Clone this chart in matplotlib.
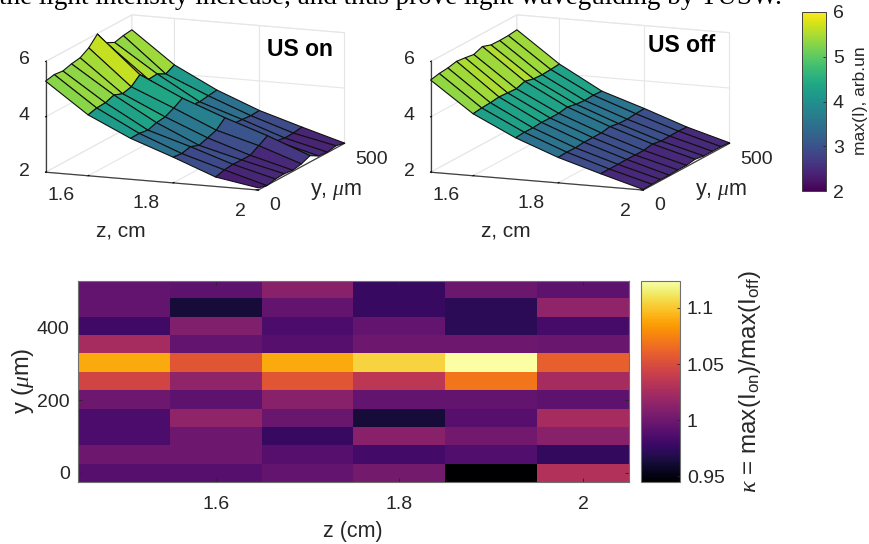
import numpy as np
import matplotlib
matplotlib.use('Agg')
import matplotlib.pyplot as plt

plt.rcParams['font.family'] = ['Liberation Sans', 'DejaVu Sans']
plt.rcParams['mathtext.fontset'] = 'custom'
plt.rcParams['mathtext.rm'] = 'Liberation Sans'
plt.rcParams['mathtext.it'] = 'Liberation Serif:italic'

z_cm = [1.5, 1.6, 1.7, 1.8, 1.9, 2.0]
y_um = [0, 50, 100, 150, 200, 250, 300, 350, 400, 450, 500]

# max(I) with ultrasound on, one row per z
I_on = [[5.29, 5.36, 5.32, 5.41, 5.46, 5.65, 5.98, 5.50, 5.34, 5.42, 5.46],
        [4.20, 4.28, 4.30, 4.41, 4.29, 4.37, 4.64, 4.30, 4.33, 4.16, 4.32],
        [3.48, 3.49, 3.44, 3.54, 3.58, 3.73, 3.92, 3.49, 3.45, 3.50, 3.54],
        [2.93, 2.89, 2.97, 2.85, 2.95, 3.06, 3.34, 2.96, 2.94, 2.91, 2.93],
        [2.34, 2.43, 2.46, 2.45, 2.45, 2.63, 2.82, 2.46, 2.40, 2.41, 2.46],
        [2.08, 1.99, 2.06, 2.08, 2.04, 2.10, 2.23, 2.05, 2.02, 2.08, 2.01]]
# max(I) with ultrasound off
I_off = [[5.33, 5.40, 5.43, 5.50, 5.46, 5.41, 5.53, 5.42, 5.41, 5.42, 5.46],
         [4.24, 4.28, 4.30, 4.34, 4.32, 4.30, 4.40, 4.32, 4.30, 4.32, 4.35],
         [3.50, 3.53, 3.52, 3.55, 3.54, 3.54, 3.60, 3.53, 3.50, 3.52, 3.50],
         [2.92, 2.94, 2.93, 2.96, 2.96, 2.96, 3.02, 2.96, 2.95, 2.98, 3.00],
         [2.46, 2.46, 2.46, 2.47, 2.46, 2.46, 2.52, 2.46, 2.47, 2.48, 2.46],
         [2.02, 2.04, 2.04, 2.03, 2.05, 2.05, 2.10, 2.05, 2.05, 2.05, 2.02]]
# kappa, one row per y (y = 0 first), one column per z
kappa = [[0.990, 0.990, 0.995, 1.003, 0.945, 1.030],
         [1.000, 1.000, 0.990, 0.982, 0.988, 0.975],
         [0.985, 1.000, 0.977, 1.012, 1.002, 1.012],
         [0.985, 1.015, 0.998, 0.963, 0.990, 1.025],
         [1.000, 0.993, 1.012, 0.995, 0.995, 0.993],
         [1.045, 1.015, 1.055, 1.035, 1.070, 1.025],
         [1.090, 1.055, 1.090, 1.105, 1.124, 1.060],
         [1.025, 0.995, 0.990, 1.000, 1.000, 0.998],
         [0.980, 1.008, 0.985, 0.995, 0.972, 0.983],
         [0.995, 0.963, 0.995, 0.977, 0.972, 1.015],
         [0.995, 0.993, 1.012, 0.977, 0.999, 0.993]]

W, H = 869, 544
TC = '#262626'
fig = plt.figure(figsize=(W / 100, H / 100), dpi=100)

def px_axes(x0, y0, x1, y1, **kw):
    return fig.add_axes([x0 / W, 1 - y1 / H, (x1 - x0) / W, (y1 - y0) / H], **kw)

def px_text(x, y, s, **kw):
    kw.setdefault('color', TC)
    kw.setdefault('ha', 'center')
    kw.setdefault('va', 'center')
    return fig.text(x / W, 1 - y / H, s, **kw)

norm3d = plt.Normalize(2, 6)

def surf_panel(data, dx, title, title_x, title_y):
    side = 337
    cx, cy = 190.5 + dx, 107
    ax = px_axes(cx - side / 2, cy - side / 2, cx + side / 2, cy + side / 2, projection='3d')
    ax.patch.set_alpha(0)
    ax.set_proj_type('ortho')
    ax.view_init(elev=12.3, azim=-68.5)
    ax.set_box_aspect((230, 237, 114))
    Y, Z = np.meshgrid(y_um, z_cm)
    data = np.array(data)
    ax.plot_surface(Z, Y, data, facecolors=plt.cm.viridis(norm3d(data)), rstride=1, cstride=1,
                    shade=False, edgecolor='#111111', linewidth=0.8, antialiased=True)
    ax.set_xlim(1.5, 2)
    ax.set_ylim(0, 500)
    ax.set_zlim(2, 6)
    ax.set_xticks([1.6, 1.8, 2])
    ax.set_yticks([0, 500])
    ax.set_zticks([2, 4, 6])
    ax.set_xticklabels([])
    ax.set_yticklabels([])
    ax.set_zticklabels([])
    for a in (ax.xaxis, ax.yaxis, ax.zaxis):
        a.pane.set_facecolor((1, 1, 1, 0))
        a.pane.set_edgecolor('#dcdcdc')
        a.pane.set_linewidth(0.8)
        a.line.set_color('#404040')
        a.line.set_linewidth(0.9)
        a._axinfo['grid']['color'] = '#e6e6e6'
        a._axinfo['grid']['linewidth'] = 0.8
        a._axinfo['tick']['inward_factor'] = 0.0
        a._axinfo['tick']['outward_factor'] = 0.12
        a._axinfo['tick']['color'] = '#404040'
    ax.zaxis.set_ticks_position('lower')
    px_text(title_x, title_y, title, fontsize=16.5, fontweight='bold', color='black')
    # tick labels sit further from the box than the 3D axis would put them
    for x, y, s in [(61, 196, '1.6'), (146, 204, '1.8'), (240, 211, '2'), (275, 206, '0'),
                    (372, 159, '500'), (24, 59, '6'), (24, 115, '4'), (24, 172, '2')]:
        px_text(x + dx, y, s, fontsize=14)
    px_text(121 + dx, 231, 'z, cm', fontsize=15)
    px_text(338 + dx - 2, 191, r'y, $\mu$m', fontsize=15.5)
    return ax

surf_panel(I_on, 0, 'US on', 300, 50)
surf_panel(I_off, 385, 'US off', 682, 45)

# text of the page above the figure, cut by the crop
px_text(-1, 3.5, 'the light intensity increase, and thus prove light waveguiding by TUSW.',
        family=['Liberation Serif'], fontsize=19.5, color='black', ha='left', va='baseline')

# top colorbar
cax = px_axes(802, 12, 826, 191)
sm = plt.cm.ScalarMappable(norm=norm3d, cmap='viridis')
cb = fig.colorbar(sm, cax=cax)
cb.set_ticks([2, 3, 4, 5, 6])
cb.ax.tick_params(labelsize=14, direction='in', length=2.5, width=0.6, colors=TC, pad=5)
cb.outline.set_edgecolor('#404040')
cb.outline.set_linewidth(0.7)
px_text(861, 101, 'max(I), arb.un', fontsize=12.5, rotation=90)

# kappa map
hax = px_axes(78, 281, 629, 482)
dz = (z_cm[1] - z_cm[0]) / 2
dy = (y_um[1] - y_um[0]) / 2
im = hax.imshow(kappa, origin='lower', aspect='auto', cmap='inferno', vmin=0.945, vmax=1.124,
                extent=[z_cm[0] - dz, z_cm[-1] + dz, y_um[0] - dy, y_um[-1] + dy + 2],
                interpolation='nearest')
hax.set_xticks([1.6, 1.8, 2])
hax.set_xticklabels(['1.6', '1.8', '2'])
hax.set_yticks([0, 200, 400])
hax.tick_params(labelsize=14, direction='in', top=True, right=True, length=3, width=0.6,
                colors=TC, pad=10)
hax.tick_params(axis='y', pad=6)
for s in hax.spines.values():
    s.set_edgecolor('#707070')
    s.set_linewidth(0.8)
px_text(353, 531, 'z (cm)', fontsize=15.5)
px_text(23, 381, r'y ($\mu$m)', fontsize=17, rotation=90)

cax2 = px_axes(641, 281, 680, 482)
cb2 = fig.colorbar(im, cax=cax2)
cb2.set_ticks([0.95, 1, 1.05, 1.1])
cb2.set_ticklabels(['0.95', '1', '1.05', '1.1'])
cb2.ax.tick_params(labelsize=14, direction='in', length=2.5, width=0.6, colors=TC, pad=5)
cb2.outline.set_edgecolor('#707070')
cb2.outline.set_linewidth(0.8)
px_text(750, 381, r'$\kappa$ = max(I$_{\mathrm{on}}$)/max(I$_{\mathrm{off}}$)', fontsize=17.5, rotation=90)

fig.savefig('out.png', dpi=100)
